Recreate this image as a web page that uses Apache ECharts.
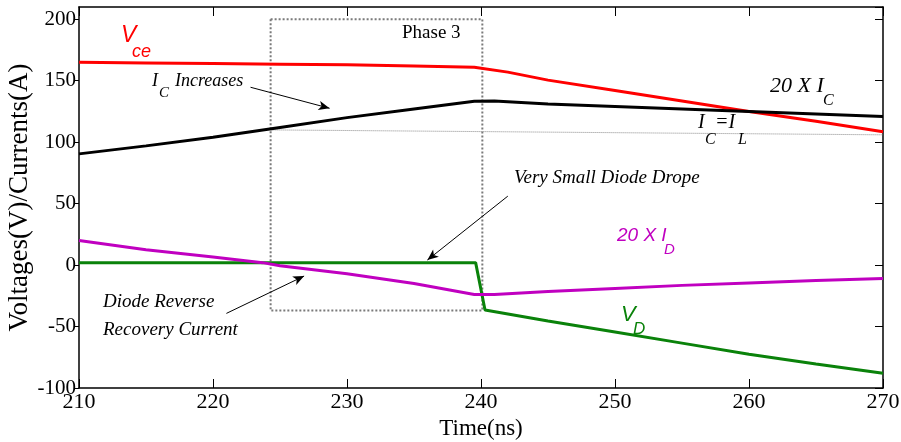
<!DOCTYPE html>
<html>
<head>
<meta charset="utf-8">
<script src="https://cdn.jsdelivr.net/npm/echarts@6/dist/echarts.min.js"></script>
<style>
  html, body { margin: 0; padding: 0; background: #fff; }
  #chart { width: 901px; height: 442px; }
</style>
</head>
<body>
<div id="chart"></div>
<script>
// Switching waveforms, time in ns
const xTicks = [210, 220, 230, 240, 250, 260, 270];
const yTicks = [-100, -50, 0, 50, 100, 150, 200];

// Collector-emitter voltage V_ce
const tVce = [210, 215, 220, 225, 230, 235, 239.5, 242, 245, 250, 255, 260, 265, 270];
const vce  = [165, 164.5, 164, 163.5, 163, 162, 161, 157, 150.5, 142, 133.5, 125, 117, 108.5];

// Collector current, scaled 20 x I_C
const tIc = [210, 215, 220, 225, 230, 235, 239.5, 241, 245, 250, 255, 260, 265, 270];
const ic  = [90.5, 97, 104, 112, 120, 127, 133.3, 133.5, 131, 129, 127, 125, 123, 121];

// Diode current, scaled 20 x I_D
const tId = [210, 215, 220, 223.7, 225, 230, 235, 239.5, 241, 245, 250, 255, 260, 265, 270];
const id  = [20, 12.5, 6.5, 2, -0.5, -7, -15, -24, -24, -21.5, -19, -16.5, -14.5, -12.5, -11];

// Diode voltage V_D
const tVd = [210, 239.6, 240.3, 245, 250, 255, 260, 265, 270];
const vd  = [2, 2, -36.5, -45.5, -54.5, -63.5, -72.5, -80.5, -88];

// Load current reference level I_C = I_L
const tIl = [224.3, 270];
const il  = [110, 106];

// Phase 3 window [t0, t1] x [v0, v1]
const phaseT = [224.3, 240.1];
const phaseV = [-37, 200];

// Annotation arrows: tail and head in data units
const arrowTail = [[222.8, 144.7], [242.0, 56.1], [221.0, -39.3]];
const arrowHead = [[228.7, 127.6], [236.0, 4.1], [226.8, -8.9]];

const zip = (xs, ys) => xs.map((x, i) => [x, ys[i]]);

const SERIF = '"Liberation Serif", serif';
const SANS = '"Liberation Sans", sans-serif';

function txt(x, y, text, size, color, family, italic) {
  return {
    type: 'text', x: x, y: y, z: 100,
    style: {
      text: text, fill: color, fontSize: size, fontFamily: family,
      fontStyle: italic ? 'italic' : 'normal',
      align: 'left', verticalAlign: 'middle'
    }
  };
}

const chart = echarts.init(document.getElementById('chart'), null, { renderer: 'canvas' });

const axisLine = { onZero: false, lineStyle: { color: '#000', width: 1.5 } };

const option = {
  animation: false,
  backgroundColor: '#fff',
  grid: { left: 79, right: 18, top: 7, bottom: 54, containLabel: false, outerBoundsMode: 'none' },
  xAxis: [
    {
      type: 'value', min: xTicks[0], max: xTicks[xTicks.length - 1], interval: 10,
      position: 'bottom',
      axisLine: axisLine,
      axisTick: { inside: true, length: 9, lineStyle: { color: '#000', width: 1 } },
      axisLabel: { color: '#000', fontFamily: SERIF, fontSize: 22, margin: 3 },
      splitLine: { show: false },
      name: 'Time(ns)', nameLocation: 'middle', nameGap: 29, nameMoveOverlap: false,
      nameTextStyle: { color: '#000', fontFamily: SERIF, fontSize: 23 }
    },
    {
      type: 'value', min: xTicks[0], max: xTicks[xTicks.length - 1], interval: 10,
      position: 'top',
      axisLine: axisLine,
      axisTick: { inside: true, length: 9, lineStyle: { color: '#000', width: 1 } },
      axisLabel: { show: false },
      splitLine: { show: false }
    }
  ],
  yAxis: [
    {
      type: 'value', min: yTicks[0], max: 210, interval: 50,
      position: 'left',
      axisLine: axisLine,
      axisTick: { inside: false, length: 5, lineStyle: { color: '#000', width: 1 } },
      axisLabel: {
        color: '#000', fontFamily: SERIF, fontSize: 21, margin: 3,
        showMaxLabel: false,
        formatter: v => (yTicks.indexOf(v) >= 0 ? String(v) : '')
      },
      splitLine: { show: false },
      name: 'Voltages(V)/Currents(A)', nameLocation: 'middle', nameGap: 46, nameRotate: 90,
      nameMoveOverlap: false,
      nameTextStyle: { color: '#000', fontFamily: SERIF, fontSize: 27 }
    },
    {
      type: 'value', min: yTicks[0], max: 210, interval: 50,
      position: 'right',
      axisLine: axisLine,
      axisTick: { inside: true, length: 8, lineStyle: { color: '#000', width: 1 } },
      axisLabel: { show: false },
      splitLine: { show: false }
    }
  ],
  series: [
    {
      name: 'IL', type: 'line', data: zip(tIl, il), symbol: 'none', z: 1,
      lineStyle: { color: '#8a8a8a', width: 1, type: 'dotted' },
      markArea: {
        silent: true,
        itemStyle: { color: 'rgba(0,0,0,0)', borderColor: '#7a7a7a', borderWidth: 2, borderType: 'dotted' },
        data: [[{ coord: [phaseT[0], phaseV[1]] }, { coord: [phaseT[1], phaseV[0]] }]]
      },
      markLine: {
        silent: true,
        symbol: ['none', 'arrow'],
        symbolSize: [7, 11],
        label: { show: false },
        lineStyle: { color: '#000', width: 1, type: 'solid' },
        data: arrowTail.map((a, i) => [{ coord: a }, { coord: arrowHead[i] }])
      }
    },
    {
      name: 'Vce', type: 'line', data: zip(tVce, vce), symbol: 'none', z: 3,
      lineStyle: { color: '#ff0000', width: 3 }
    },
    {
      name: 'Ic', type: 'line', data: zip(tIc, ic), symbol: 'none', z: 3,
      lineStyle: { color: '#000000', width: 3 }
    },
    {
      name: 'Vd', type: 'line', data: zip(tVd, vd), symbol: 'none', z: 3,
      lineStyle: { color: '#0a820a', width: 3 }
    },
    {
      name: 'Id', type: 'line', data: zip(tId, id), symbol: 'none', z: 4,
      lineStyle: { color: '#c000c0', width: 3 }
    }
  ],
  graphic: [
    txt(402, 33, 'Phase 3', 19, '#000', SERIF, false),
    // V_ce
    txt(121, 36, 'V', 23, '#ff0000', SANS, true),
    txt(132, 52, 'ce', 18, '#ff0000', SANS, true),
    // I_C Increases
    txt(152, 81, 'I', 18, '#000', SERIF, true),
    txt(159, 93, 'C', 15, '#000', SERIF, true),
    txt(175, 81, 'Increases', 18, '#000', SERIF, true),
    // 20 X I_C
    txt(770, 86, '20 X I', 22, '#000', SERIF, true),
    txt(823, 101, 'C', 16, '#000', SERIF, true),
    // I_C = I_L
    txt(698, 123, 'I', 20, '#000', SERIF, true),
    txt(705, 140, 'C', 16, '#000', SERIF, true),
    txt(715, 123, '=I', 20, '#000', SERIF, true),
    txt(738, 140, 'L', 16, '#000', SERIF, true),
    // Very Small Diode Drope
    txt(514, 178, 'Very Small Diode Drope', 19, '#000', SERIF, true),
    // 20 X I_D
    txt(617, 236, '20 X I', 19, '#c000c0', SANS, true),
    txt(664, 250, 'D', 15, '#c000c0', SANS, true),
    // V_D
    txt(621, 315, 'V', 22, '#0a820a', SANS, true),
    txt(633, 329, 'D', 17, '#0a820a', SANS, true),
    // Diode Reverse Recovery Current
    txt(103, 302, 'Diode Reverse', 19, '#000', SERIF, true),
    txt(103, 330, 'Recovery Current', 19, '#000', SERIF, true)
  ]
};

chart.setOption(option);
</script>
</body>
</html>
